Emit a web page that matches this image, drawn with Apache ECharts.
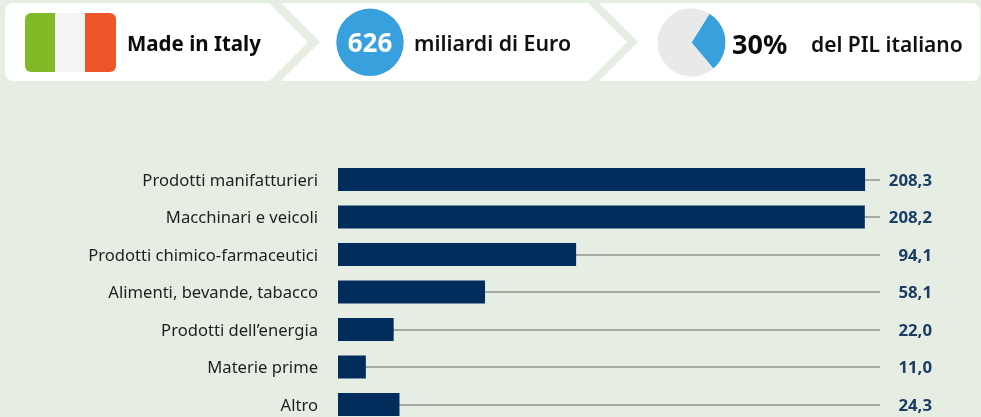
<!DOCTYPE html>
<html><head><meta charset="utf-8">
<style>html,body{margin:0;padding:0;background:#e6eee3}#c{width:981px;height:417px}</style>
<script src="https://cdn.jsdelivr.net/npm/echarts@6/dist/echarts.min.js"></script>
</head><body><div id="c"></div>
<script>
const categories = ['Prodotti manifatturieri','Macchinari e veicoli','Prodotti chimico-farmaceutici','Alimenti, bevande, tabacco','Prodotti dell’energia','Materie prime','Altro'];
const values = [208.3,208.2,94.1,58.1,22.0,11.0,24.3];
const valueLabels = ['208,3','208,2','94,1','58,1','22,0','11,0','24,3'];
const pilShare = [30,70];
const FONT = '"Noto Sans", sans-serif';
const chart = echarts.init(document.getElementById('c'),null,{renderer:'canvas'});
const txt=(x,y,text,size,weight,fill,align)=>({type:'text',x,y,z:20,style:{text,font:`${weight} ${size}px ${FONT}`,fill,align:align||'left',verticalAlign:'middle'}});
const panel=(pts)=>({type:'polygon',z:1,shape:{points:pts},style:{fill:'#fff'}});
chart.setOption({
  animation:false,
  backgroundColor:'#e6eee3',
  grid:{left:338,top:160.75,width:542,height:262.5,containLabel:false,outerBoundsMode:'none'},
  xAxis:{type:'value',min:0,max:214.2,show:false},
  yAxis:[
   {type:'category',inverse:true,data:categories,position:'left',
    axisLine:{show:false},
    axisTick:{show:true,inside:true,length:542,alignWithLabel:true,lineStyle:{color:'#a6a9a3',width:2}},
    axisLabel:{margin:20,verticalAlign:'top',lineHeight:3,fontFamily:FONT,fontSize:16.6,color:'#1f1f1f'}},
   {type:'category',inverse:true,data:valueLabels,position:'right',
    axisLine:{show:false},axisTick:{show:false},
    axisLabel:{margin:52,align:'right',verticalAlign:'top',lineHeight:3,fontFamily:FONT,fontSize:16.8,fontWeight:700,color:'#1c3d66'}}
  ],
  series:[
   {type:'bar',data:values,barWidth:23,itemStyle:{color:'#002d5b'},z:5},
   {type:'pie',center:[691.5,42.5],radius:[0,34],startAngle:58,silent:true,
    label:{show:false},labelLine:{show:false},
    data:[{value:pilShare[0],itemStyle:{color:'#38a0dd'}},{value:pilShare[1],itemStyle:{color:'#e8eaea'}}],z:10}
  ],
  graphic:[
   {type:'rect',z:1,shape:{x:5,y:3,width:30,height:78,r:[8,0,0,8]},style:{fill:'#fff'}},
   panel([[15,3],[269,3],[308,42],[269,81],[15,81]]),
   panel([[281,3],[588,3],[627,42],[588,81],[281,81],[320,42]]),
   panel([[599,3],[960,3],[960,81],[599,81],[638,42]]),
   {type:'rect',z:1,shape:{x:940,y:3,width:40,height:78,r:[0,8,8,0]},style:{fill:'#fff'}},
   {type:'rect',z:3,shape:{x:25,y:13,width:35,height:59,r:[6,0,0,6]},style:{fill:'#82b926'}},
   {type:'rect',z:3,shape:{x:55,y:13,width:31,height:59},style:{fill:'#f4f4f4'}},
   {type:'rect',z:3,shape:{x:85,y:13,width:31,height:59,r:[0,6,6,0]},style:{fill:'#ec5628'}},
   {type:'circle',z:3,shape:{cx:370,cy:42.3,r:33.7},style:{fill:'#38a0dd'}},
   txt(127,45,'Made in Italy',20.5,700,'#0b0b0b'),
   txt(370,45,'626',26,700,'#fff','center'),
   txt(414,45,'miliardi di Euro',21.3,600,'#111'),
   txt(732,46,'30%',27,700,'#0b0b0b'),
   txt(811,46,'del PIL italiano',21,600,'#111')
  ]
});
</script></body></html>
